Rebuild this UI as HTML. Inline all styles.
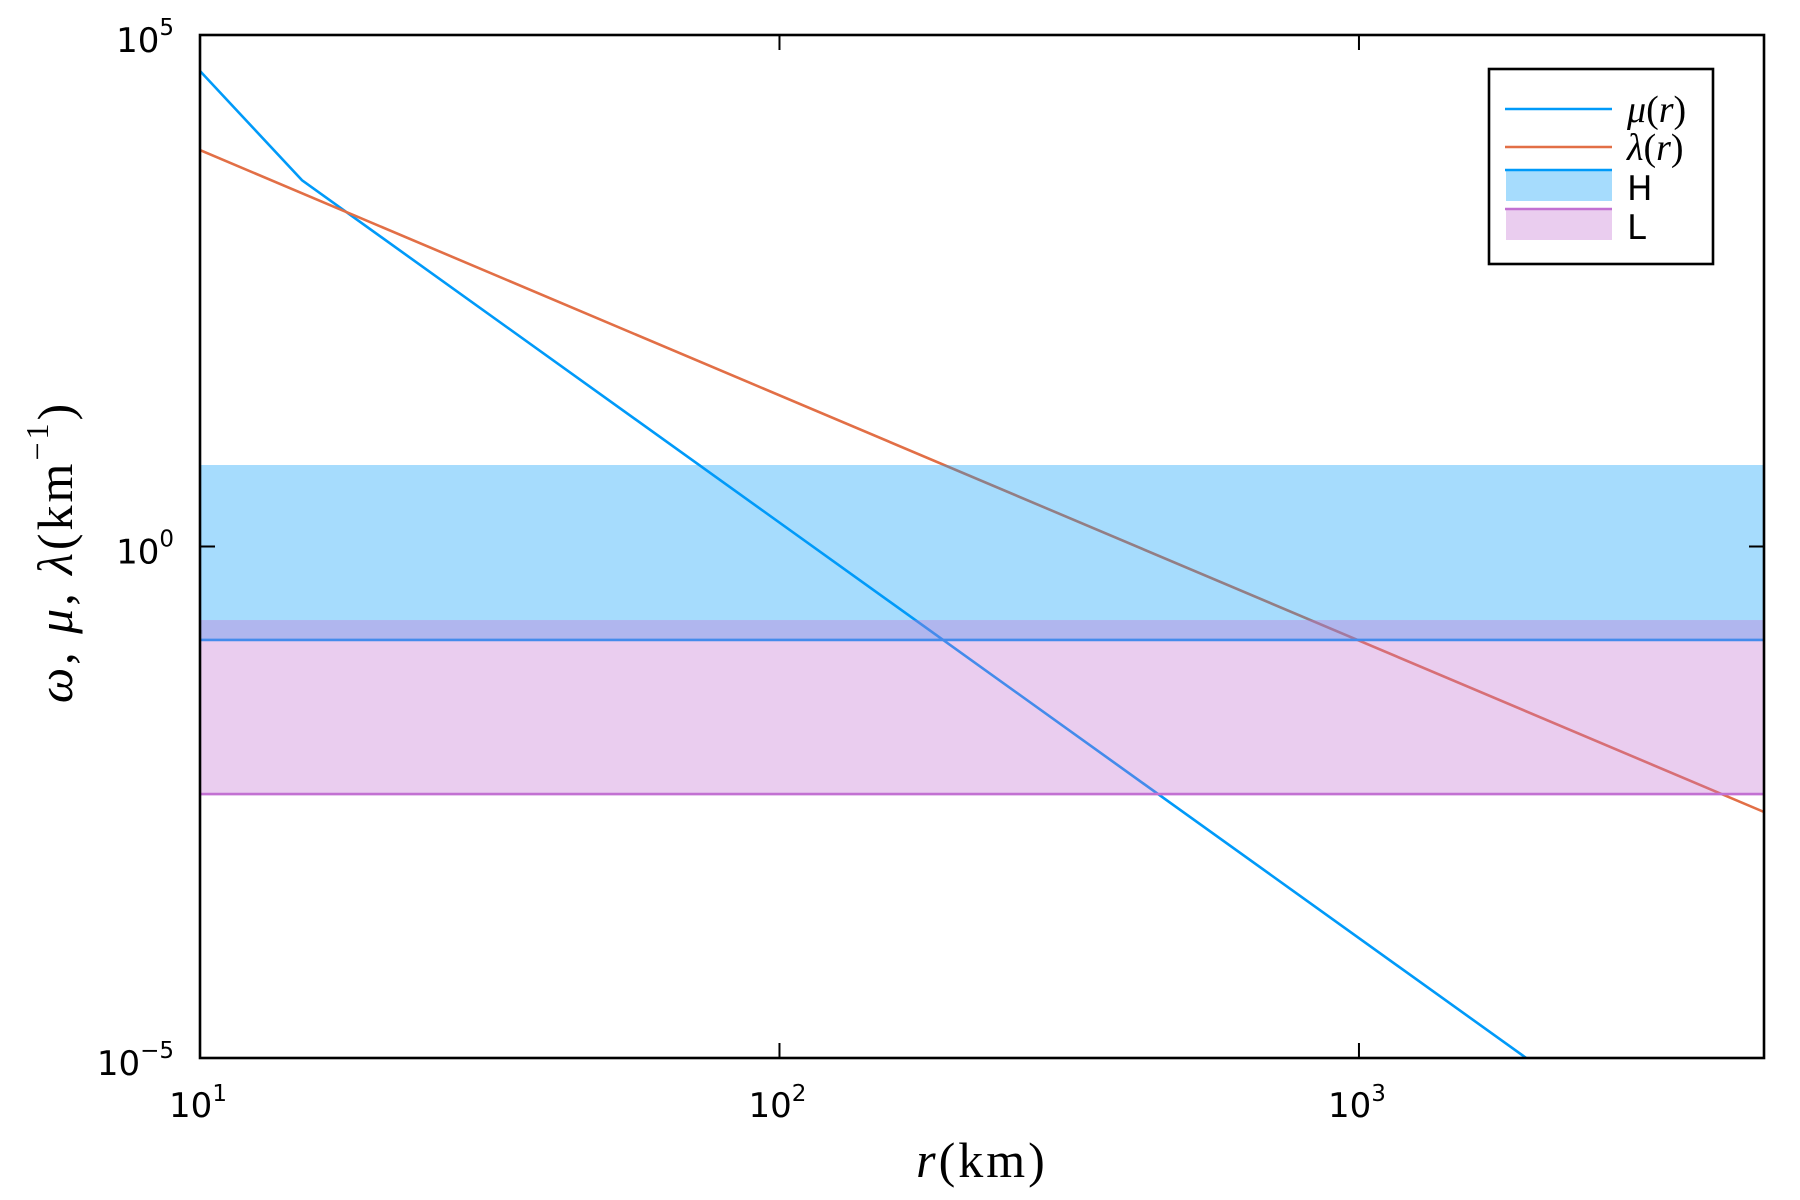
<!DOCTYPE html>
<html><head><meta charset="utf-8"><style>
html,body{margin:0;padding:0;background:#fff;}
svg{display:block;}
.tk{font-family:"DejaVu Sans","Liberation Sans",sans-serif;font-size:34px;fill:#000;}
.sup{font-size:23px;}
.lab{font-family:"Liberation Serif","DejaVu Serif",serif;font-size:50px;fill:#000;}
.lg{font-family:"Liberation Serif",serif;font-size:38px;fill:#000;}
</style></head><body>
<svg id="chart" width="1800" height="1200" viewBox="0 0 1800 1200" xmlns="http://www.w3.org/2000/svg">
<defs><clipPath id="pc"><rect x="200" y="35" width="1564" height="1023"/></clipPath></defs>
<rect x="0" y="0" width="1800" height="1200" fill="#fff"/>
<g id="series" clip-path="url(#pc)"></g>
<g id="bands" clip-path="url(#pc)"></g>
<g id="axes"></g>
<g id="legend"></g>
</svg>
<script>
const xTicks = [1, 2, 3];
const yTicks = [-5, 0, 5];
const muR = [10, 15, 2000, 5000];
const muV = [44500, 3800, 8.9e-6, 2.2e-7];
const lamR = [10, 5000];
const lamV = [7500, 0.00254];
const hBand = [0.122, 6.26];
const lBand = [0.0038, 0.191];

const X0=200, X1=1764, Y0=35, Y1=1058;
const xmin=1, xmax=Math.log10(5000), ymin=-5, ymax=5;
function sx(r){return X0+(Math.log10(r)-xmin)/(xmax-xmin)*(X1-X0);}
function sy(v){return Y1-(Math.log10(v)-ymin)/(ymax-ymin)*(Y1-Y0);}
const NS='http://www.w3.org/2000/svg';
function mk(tag,attrs,parent){const e=document.createElementNS(NS,tag);for(const k in attrs)e.setAttribute(k,attrs[k]);parent.appendChild(e);return e;}
const S=document.getElementById('series'), B=document.getElementById('bands'), A=document.getElementById('axes'), L=document.getElementById('legend');

function line(rs,vs,color,name){
  const p=mk('polyline',{points:rs.map((r,i)=>sx(r)+','+sy(vs[i])).join(' '),fill:'none',stroke:color,'stroke-width':2.6},S);
  
  
}
line(muR,muV,'#009af9','mu-line');
line(lamR,lamV,'#e26f46','lambda-line');

function band(b,color,name){
  const r=mk('rect',{x:X0,y:sy(b[1]),width:X1-X0,height:sy(b[0])-sy(b[1]),fill:color,'fill-opacity':0.35},B);
  
  
  const l=mk('line',{x1:X0,x2:X1,y1:sy(b[0]),y2:sy(b[0]),stroke:color,'stroke-width':2.6},B);
  
  
}
band(hBand,'#009af9','h-band');
band(lBand,'#c271d2','l-band');

const fr=mk('rect',{x:X0,y:Y0,width:X1-X0,height:Y1-Y0,fill:'none',stroke:'#000','stroke-width':2.6},A);


xTicks.forEach(t=>{
  const x=X0+(t-xmin)/(xmax-xmin)*(X1-X0);
  mk('line',{x1:x,x2:x,y1:Y1,y2:Y1-15,stroke:'#000','stroke-width':2},A);
  mk('line',{x1:x,x2:x,y1:Y0,y2:Y0+15,stroke:'#000','stroke-width':2},A);
  const tx=mk('text',{x:x-2,y:Y1+59,'text-anchor':'middle',class:'tk'},A);
  
  
  tx.innerHTML='10<tspan class="sup" dy="-16">'+t+'</tspan>';
});
yTicks.forEach(t=>{
  const y=Y1-(t-ymin)/(ymax-ymin)*(Y1-Y0);
  mk('line',{x1:X0,x2:X0+15,y1:y,y2:y,stroke:'#000','stroke-width':2},A);
  mk('line',{x1:X1,x2:X1-15,y1:y,y2:y,stroke:'#000','stroke-width':2},A);
  const tx=mk('text',{x:X0-26,y:y+17,'text-anchor':'end',class:'tk'},A);
  
  
  tx.innerHTML='10<tspan class="sup" dy="-17">'+(t<0?'\u2212':'')+Math.abs(t)+'</tspan>';
});
const xl=mk('text',{x:982,y:1177,'text-anchor':'middle',class:'lab','letter-spacing':'3'},A);


xl.innerHTML='<tspan font-style="italic">r</tspan>(km)';
const yl=mk('text',{x:0,y:0,'text-anchor':'middle',class:'lab','letter-spacing':'3',transform:'translate(72,552) rotate(-90)'},A);


yl.innerHTML='<tspan font-style="italic">ω</tspan>, <tspan font-style="italic">μ</tspan>, <tspan font-style="italic">λ</tspan>(km<tspan font-size="32" dy="-24">−1</tspan><tspan dy="24">)</tspan>';

const lb=mk('rect',{x:1489,y:69,width:224,height:195,fill:'#fff',stroke:'#000','stroke-width':2.6},L);


const ents=[['μ(r)','#009af9',false],['λ(r)','#e26f46',false],['H','#009af9',true],['L','#c271d2',true]];
ents.forEach((e,i)=>{
  const y=[109,147,170,209][i];
  const g=mk('g',{},L);
  
  
  mk('line',{x1:1505,x2:1612,y1:y,y2:y,stroke:e[1],'stroke-width':2.6},g);
  if(e[2]) mk('rect',{x:1506,y:y,width:106,height:31,fill:e[1],'fill-opacity':0.35},g);
  const t=mk('text',{x:1627,y:e[2]?y+30:y+13,class:e[2]?'tk':'lg'},g);
  if(e[2]) t.setAttribute('font-size','32');
  t.innerHTML=e[2]?e[0]:'<tspan font-style="italic">'+e[0][0]+'</tspan>(<tspan font-style="italic">r</tspan>)';
});
</script>
</body></html>
